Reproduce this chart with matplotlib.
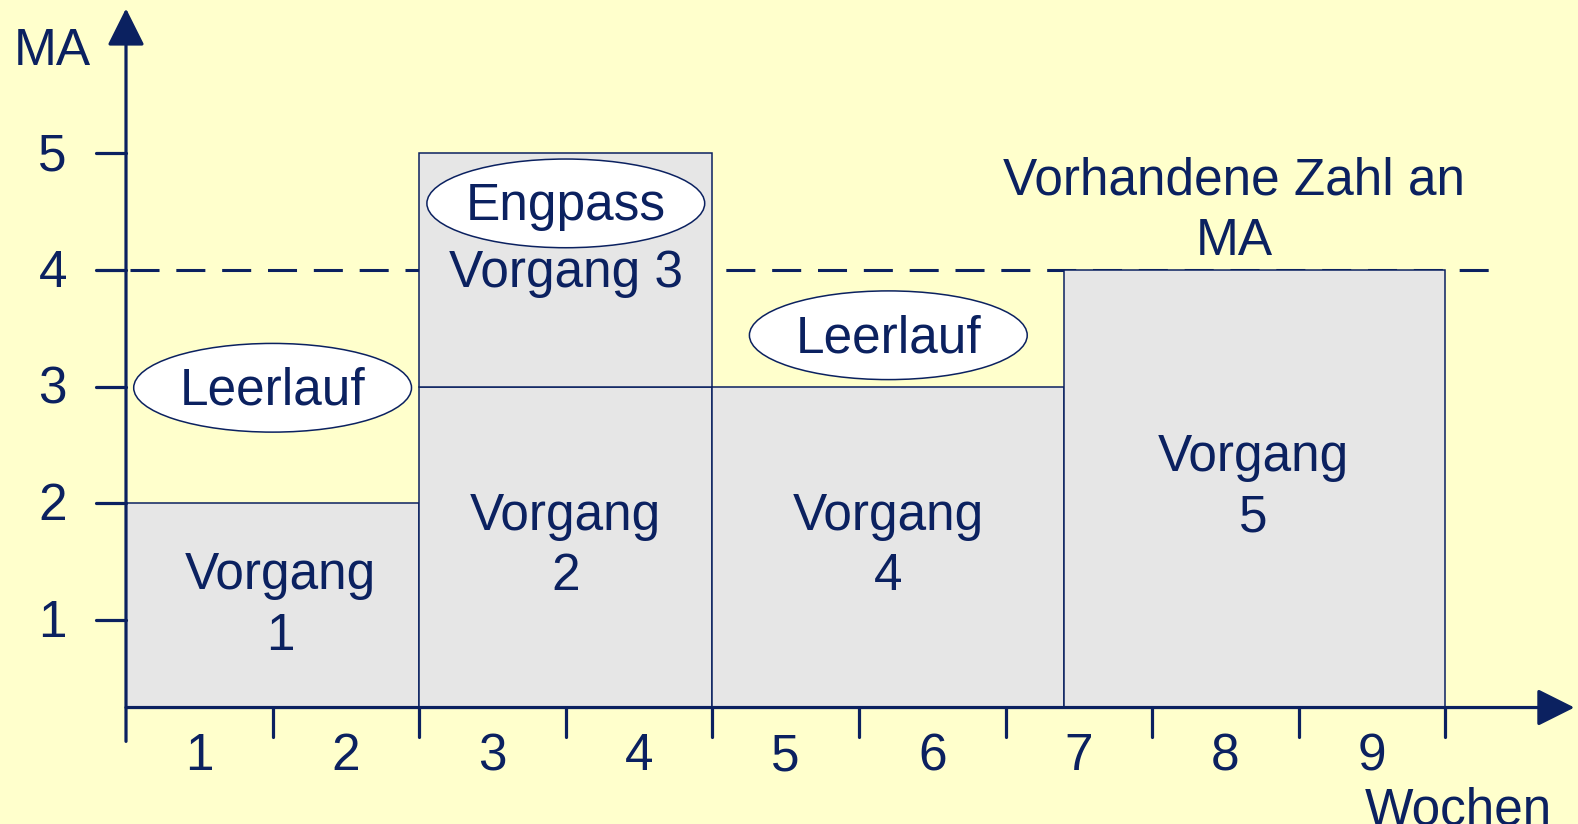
import matplotlib
matplotlib.use("Agg")
import matplotlib.pyplot as plt
from matplotlib.patches import Ellipse

# ------------------------------------------------------------
# data
# ------------------------------------------------------------
vorgang_names = ["Vorgang\n1", "Vorgang\n2", "Vorgang 3", "Vorgang\n4", "Vorgang\n5"]
vorgang_start = [0, 2, 2, 4, 6.4]
vorgang_dauer = [2, 2, 2, 2.4, 2.6]
vorgang_bottom = [0.25, 0.25, 3, 0.25, 0.25]
vorgang_top = [2, 3, 5, 3, 4]
kapazitaet = 4
week_labels = ["1", "2", "3", "4", "5", "6", "7", "8", "9"]
ma_ticks = [1, 2, 3, 4, 5]

NAVY = "#0B2160"
BG = "#FFFFCC"
BAR = "#E6E6E6"
FS = 37

plt.rcParams["font.family"] = ["Liberation Sans", "DejaVu Sans"]

fig = plt.figure(figsize=(15.78, 8.24), dpi=100, facecolor=BG)
ax = fig.add_axes([0, 0, 1, 1])
ax.set_facecolor(BG)
# one week = 146.6 px, one MA = 116.7 px
ax.set_xlim(-126 / 146.6, (1578 - 126) / 146.6)
ax.set_ylim((736.7 - 824) / 116.7, 736.7 / 116.7)
ax.axis("off")

base = 0.25

# capacity line
ax.plot([0.03, 9.33], [kapazitaet, kapazitaet], color=NAVY, lw=2.2,
        dashes=(9.5, 5.5), zorder=1)

# bars
heights = [t - b for t, b in zip(vorgang_top, vorgang_bottom)]
ax.bar(vorgang_start, heights, width=vorgang_dauer, bottom=vorgang_bottom,
       align="edge", color=BAR, edgecolor=NAVY, linewidth=1.1, zorder=2)

# axes with arrows
arrow_style = "-|>,head_length=1.0,head_width=0.5"
ax.annotate("", xy=(0, 6.24), xytext=(0, -0.04),
            arrowprops=dict(arrowstyle=arrow_style, color=NAVY, lw=2.3,
                            mutation_scale=23, shrinkA=0, shrinkB=0),
            zorder=5)
ax.annotate("", xy=(9.88, base), xytext=(0, base),
            arrowprops=dict(arrowstyle=arrow_style, color=NAVY, lw=2.3,
                            mutation_scale=23, shrinkA=0, shrinkB=0),
            zorder=5)

# ticks
for i in range(1, len(week_labels) + 1):
    ax.plot([i, i], [base, 0], color=NAVY, lw=2.3, zorder=5, solid_capstyle="round")
for i, lab in enumerate(week_labels):
    ax.text(i + 0.5, -0.17, lab, ha="center", va="center", fontsize=FS, color=NAVY)
for v in ma_ticks:
    ax.plot([-0.206, 0], [v, v], color=NAVY, lw=2.3, zorder=5, solid_capstyle="round")
    ax.text(-0.5, v - 0.03, str(v), ha="center", va="center", fontsize=FS, color=NAVY)

ax.text(-0.5, 5.87, "MA", ha="center", va="center", fontsize=FS, color=NAVY)
ax.text(9.09, -0.64, "Wochen", ha="center", va="center", fontsize=FS, color=NAVY)

# labels in the bars
label_pos = [(1.05, 1.12), (3.0, 1.63), (3.0, 3.97), (5.2, 1.63), (7.69, 2.13)]
for name, (x, y) in zip(vorgang_names, label_pos):
    ax.text(x, y, name, ha="center", va="center", fontsize=FS, color=NAVY,
            linespacing=1.3, zorder=6)

ax.text(7.56, 4.50, "Vorhandene Zahl an\nMA", ha="center", va="center",
        fontsize=FS, color=NAVY, linespacing=1.3, zorder=6)

# ellipses
ellipses = [("Leerlauf", 1.0, 2.99), ("Engpass", 3.0, 4.57), ("Leerlauf", 5.2, 3.44)]
for txt, x, y in ellipses:
    ax.add_patch(Ellipse((x, y), 1.895, 0.76, facecolor="white", edgecolor=NAVY,
                         lw=1.1, zorder=7))
    ax.text(x, y - 0.03, txt, ha="center", va="center", fontsize=FS, color=NAVY, zorder=8)

fig.savefig("out.png", dpi=100, facecolor=BG)
